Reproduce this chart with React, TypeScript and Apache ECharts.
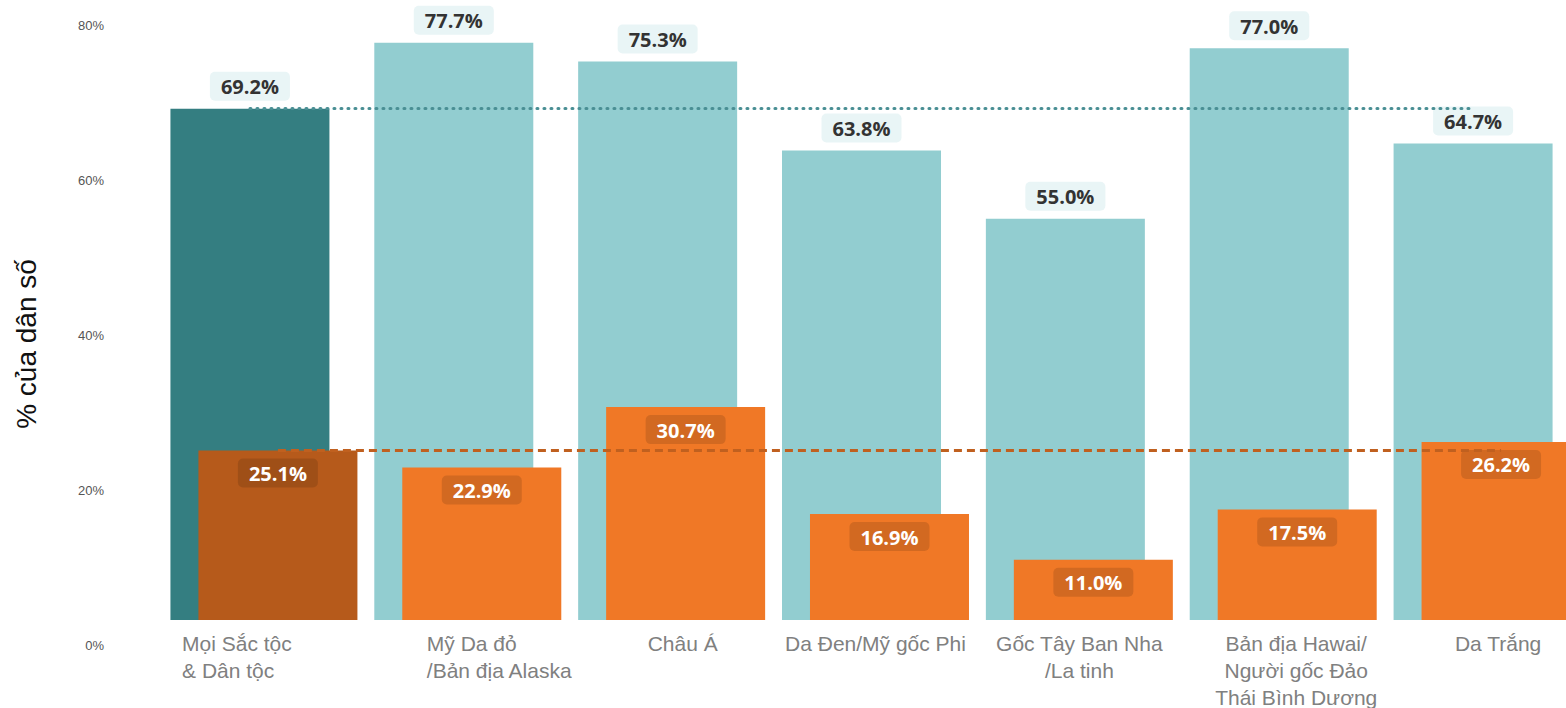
import React, { useEffect, useRef } from "react";
import * as echarts from "echarts";

const categories = [
  "Mọi Sắc tộc\n& Dân tộc",
  "Mỹ Da đỏ\n/Bản địa Alaska",
  "Châu Á",
  "Da Đen/Mỹ gốc Phi",
  "Gốc Tây Ban Nha\n/La tinh",
  "Bản địa Hawai/\nNgười gốc Đảo\nThái Bình Dương",
  "Da Trắng",
];
const tealValues = [69.2, 77.7, 75.3, 63.8, 55.0, 77.0, 64.7];
const orangeValues = [25.1, 22.9, 30.7, 16.9, 11.0, 17.5, 26.2];
const yTicks = [0, 20, 40, 60, 80];

const TEAL = "#92cdd0";
const TEAL_DARK = "#347e81";
const ORANGE = "#f07826";
const ORANGE_DARK = "#b65a1b";

// label alignment styles per category (rich style key)
const labelStyleKeys = ["l0", "l1", "c2", "c", "c", "c5", "c2"];

export default function App() {
  const ref = useRef<HTMLDivElement>(null);
  useEffect(() => {
    if (!ref.current) return;
    const chart = echarts.init(ref.current, null, { renderer: "svg" });
    const baseRich = {
      fontSize: 21,
      lineHeight: 27,
      color: "#808080",
      fontFamily: "Liberation Sans, Arial, sans-serif",
    };
    const gridLeft = 162;
    const gridRight = -23;
    chart.setOption({
      animation: false,
      backgroundColor: "#ffffff",
      grid: [
        { left: gridLeft, right: gridRight, top: 25, bottom: 88, outerBoundsMode: "none", containLabel: false },
        { left: gridLeft, right: gridRight, top: 25, bottom: 63, outerBoundsMode: "none", containLabel: false },
      ],
      xAxis: [
        {
          type: "category",
          gridIndex: 0,
          data: categories,
          axisLine: { show: false },
          axisTick: { show: false },
          axisLabel: {
            interval: 0,
            margin: 10,
            formatter: (val: string, idx: number) => {
              const key = labelStyleKeys[idx] || "c";
              return val
                .split("\n")
                .map((l) => `{${key}|${l}}`)
                .join("\n");
            },
            rich: {
              c: { ...baseRich, align: "center" },
              c2: { ...baseRich, align: "center", padding: [0, 0, 0, 22] },
              c5: { ...baseRich, align: "center", padding: [0, 0, 0, 26] },
              l0: { ...baseRich, align: "left", padding: [0, 54, 0, 0] },
              l1: { ...baseRich, align: "left", padding: [0, 0, 0, 64] },
            },
          },
        },
        {
          type: "category",
          gridIndex: 1,
          data: categories,
          show: false,
        },
      ],
      yAxis: [
        {
          type: "value",
          gridIndex: 0,
          min: 3.23,
          max: 80,
          show: false,
          splitLine: { show: false },
        },
        {
          type: "value",
          gridIndex: 1,
          min: yTicks[0],
          max: yTicks[yTicks.length - 1],
          interval: 20,
          axisLine: { show: false },
          axisTick: { show: false },
          splitLine: { show: false },
          axisLabel: {
            formatter: "{value}%",
            margin: 58,
            fontSize: 13,
            color: "#555555",
            fontFamily: "Liberation Sans, Arial, sans-serif",
          },
          name: "% của dân số",
          nameLocation: "middle",
          nameRotate: 90,
          nameGap: 122,
          nameTextStyle: {
            fontSize: 28,
            color: "#111111",
            fontFamily: "Liberation Sans, Arial, sans-serif",
            padding: [0, 18, 0, 0],
          },
        },
      ],
      series: [
        {
          name: "Teal",
          type: "bar",
          xAxisIndex: 0,
          yAxisIndex: 0,
          barWidth: 159,
          barGap: "-82.4%",
          z: 2,
          data: tealValues.map((v, i) => ({
            value: v,
            itemStyle: { color: i === 0 ? TEAL_DARK : TEAL },
          })),
          label: {
            show: true,
            position: "top",
            distance: 8,
            formatter: (p: any) => `${Number(p.value).toFixed(1)}%`,
            fontSize: 20,
            fontWeight: "bold",
            color: "#333333",
            fontFamily: "Open Sans, sans-serif",
            backgroundColor: "rgba(146,205,208,0.2)",
            borderRadius: 5,
            padding: [5, 11, 4, 11],
          },
          markLine: {
            silent: true,
            symbol: ["none", "none"],
            z: 5,
            label: { show: false },
            lineStyle: {
              type: [1, 6],
              cap: "round",
              color: "#4a8f94",
              width: 3,
            },
            data: [[{ coord: [0, tealValues[0]] }, { coord: [6, tealValues[0]] }]],
          },
        },
        {
          name: "Orange",
          type: "bar",
          xAxisIndex: 0,
          yAxisIndex: 0,
          barWidth: 159,
          barGap: "-82.4%",
          z: 3,
          data: orangeValues.map((v, i) => ({
            value: v,
            itemStyle: { color: i === 0 ? ORANGE_DARK : ORANGE },
          })),
          label: {
            show: true,
            position: "insideTop",
            distance: 8,
            formatter: (p: any) => `${Number(p.value).toFixed(1)}%`,
            fontSize: 20,
            fontWeight: "bold",
            color: "#ffffff",
            fontFamily: "Open Sans, sans-serif",
            backgroundColor: "rgba(0,0,0,0.12)",
            borderRadius: 5,
            padding: [5, 11, 4, 11],
          },
          markLine: {
            silent: true,
            symbol: ["none", "none"],
            z: 6,
            label: { show: false },
            lineStyle: {
              type: [8, 5],
              color: "#c0601f",
              width: 3,
            },
            data: [[{ coord: [0, orangeValues[0]] }, { coord: [6, orangeValues[0]] }]],
          },
        },
      ],
    });
    return () => chart.dispose();
  }, []);
  return (
    <div
      ref={ref}
      style={{ position: "fixed", left: 0, top: 0, width: 1566, height: 708 }}
    />
  );
}
